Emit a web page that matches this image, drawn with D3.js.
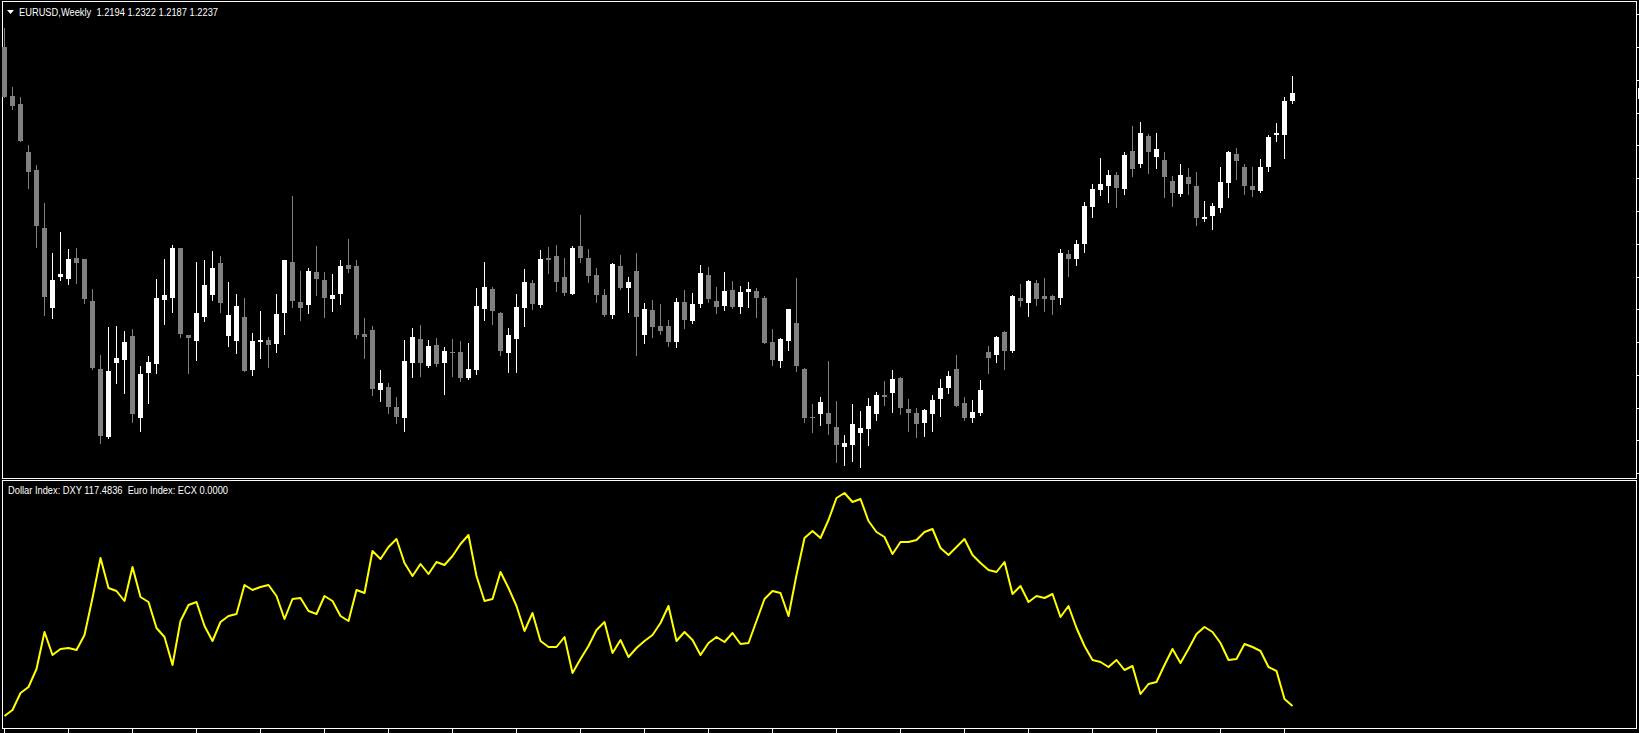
<!DOCTYPE html>
<html>
<head>
<meta charset="utf-8">
<script src="https://cdn.jsdelivr.net/npm/d3@7"></script>
<style>
    body { margin: 0; background: #000; overflow: hidden; }
    svg { display: block; }
    text { font-family: "Liberation Sans", Arial, sans-serif; font-size: 10px; fill: #fff; white-space: pre; }
</style>
</head>
<body>
<div id="chart"></div>
<script>
// Weekly EURUSD candles (oldest first)
const opens = [
    1.2467,1.2220,1.2180,1.1940,1.1850,1.1560,1.1162,1.1317,1.1307,1.1410,
    1.1405,1.1195,1.0855,1.0517,1.0887,1.0902,1.1020,1.0612,1.0837,1.0882,
    1.1202,1.1212,1.1460,1.1027,1.0997,1.1117,1.1225,1.1385,1.1022,1.0997,
    1.1115,1.0850,1.0992,1.1000,1.0982,1.1135,1.1390,1.1190,1.1175,1.1340,
    1.1300,1.1207,1.1230,1.1375,1.1370,1.1030,1.1050,1.0752,1.0765,1.0667,
    1.0612,1.0887,1.1005,1.0872,1.0975,1.0887,1.0940,1.0940,1.0812,1.0852,
    1.1157,1.1255,1.1135,1.0937,1.1007,1.1162,1.1285,1.1175,1.1410,1.1420,
    1.1315,1.1232,1.1470,1.1410,1.1325,1.1225,1.1127,1.1370,1.1262,1.1345,
    1.1027,1.1150,1.1070,1.1070,1.0992,1.1190,1.1097,1.1182,1.1325,1.1195,
    1.1172,1.1250,1.1167,1.1242,1.1245,1.1210,1.0990,1.0897,1.0997,1.1085,
    1.0855,1.0617,1.0632,1.0635,1.0567,1.0467,1.0477,1.0537,1.0557,1.0632,
    1.0727,1.0737,1.0812,1.0657,1.0637,1.0587,1.0632,1.0707,1.0762,1.0857,
    1.0687,1.0612,1.0637,1.0942,1.0927,1.1042,1.0947,1.1212,1.1187,1.1287,
    1.1222,1.1222,1.1212,1.1432,1.1407,1.1482,1.1667,1.1752,1.1772,1.1827,
    1.1757,1.1947,1.1882,1.2022,1.1917,1.1902,1.1797,1.1732,1.1817,1.1772,
    1.1607,1.1622,1.1662,1.1787,1.1929,1.1867,1.1772,1.1747,1.1867,1.2027,
    1.2025,1.2194
];
const highs = [
    1.2559,1.2267,1.2214,1.1975,1.1875,1.1687,1.1437,1.1542,1.1455,1.1460,
    1.1407,1.1254,1.0925,1.1067,1.1072,1.1045,1.1054,1.0870,1.0920,1.1305,
    1.1405,1.1475,1.1462,1.1028,1.1390,1.1400,1.1445,1.1420,1.1290,1.1230,
    1.1210,1.1035,1.1145,1.1015,1.1230,1.1402,1.1720,1.1345,1.1360,1.1470,
    1.1342,1.1330,1.1400,1.1505,1.1400,1.1110,1.1070,1.0850,1.0787,1.0715,
    1.1000,1.1060,1.1075,1.1000,1.1010,1.0965,1.1005,1.0995,1.0985,1.1260,
    1.1390,1.1267,1.1140,1.1060,1.1230,1.1355,1.1300,1.1450,1.1465,1.1475,
    1.1410,1.1470,1.1625,1.1455,1.1360,1.1255,1.1385,1.1425,1.1315,1.1435,
    1.1185,1.1200,1.1180,1.1100,1.1210,1.1250,1.1235,1.1375,1.1365,1.1265,
    1.1340,1.1295,1.1270,1.1290,1.1260,1.1220,1.1055,1.1010,1.1157,1.1312,
    1.0860,1.0682,1.0715,1.0895,1.0695,1.0527,1.0682,1.0647,1.0712,1.0742,
    1.0797,1.0852,1.0817,1.0707,1.0662,1.0657,1.0727,1.0807,1.0847,1.0927,
    1.0717,1.0702,1.0802,1.0972,1.1022,1.1044,1.1227,1.1282,1.1302,1.1299,
    1.1312,1.1227,1.1457,1.1452,1.1502,1.1692,1.1782,1.1912,1.1852,1.1842,
    1.1942,1.2072,1.2092,1.2032,1.2037,1.1942,1.1822,1.1882,1.1862,1.1842,
    1.1697,1.1687,1.1867,1.1947,1.1962,1.1882,1.1867,1.1907,1.2027,1.2087,
    1.2217,1.2322
];
const lows = [
    1.2214,1.2157,1.1995,1.1759,1.1467,1.1125,1.1112,1.1300,1.1282,1.1287,
    1.1187,1.0857,1.0487,1.0509,1.0787,1.0734,1.0592,1.0547,1.0684,1.0837,
    1.1082,1.1142,1.1017,1.0837,1.0900,1.1097,1.1202,1.1142,1.0972,1.0934,
    1.0845,1.0827,1.0912,1.0867,1.0942,1.1032,1.1167,1.1102,1.1135,1.1227,
    1.1117,1.1147,1.1182,1.1342,1.1012,1.0912,1.0727,1.0697,1.0637,1.0587,
    1.0547,1.0817,1.0822,1.0867,1.0870,1.0732,1.0822,1.0797,1.0807,1.0832,
    1.1102,1.1082,1.0927,1.0842,1.0842,1.1072,1.1157,1.1167,1.1337,1.1247,
    1.1227,1.1230,1.1392,1.1292,1.1192,1.1122,1.1112,1.1257,1.1142,1.0927,
    1.0987,1.1017,1.1032,1.0972,1.0967,1.1062,1.1087,1.1167,1.1192,1.1137,
    1.1152,1.1162,1.1137,1.1167,1.1117,1.0985,1.0877,1.0867,1.0952,1.0847,
    1.0592,1.0542,1.0577,1.0532,1.0392,1.0377,1.0397,1.0367,1.0477,1.0602,
    1.0677,1.0642,1.0632,1.0547,1.0517,1.0522,1.0547,1.0622,1.0737,1.0670,
    1.0602,1.0592,1.0627,1.0837,1.0892,1.0857,1.0940,1.1172,1.1122,1.1177,
    1.1147,1.1132,1.1182,1.1322,1.1377,1.1442,1.1617,1.1727,1.1692,1.1667,
    1.1732,1.1822,1.1867,1.1837,1.1862,1.1717,1.1672,1.1722,1.1732,1.1577,
    1.1597,1.1557,1.1642,1.1717,1.1807,1.1732,1.1722,1.1742,1.1847,1.1997,
    1.1912,1.2187
];
const closes = [
    1.2217,1.2170,1.1997,1.1842,1.1572,1.1217,1.1300,1.1330,1.1405,1.1387,
    1.1207,1.0860,1.0522,1.0845,1.0910,1.0990,1.0629,1.0830,1.0890,1.1210,
    1.1225,1.1460,1.1030,1.1009,1.1135,1.1275,1.1360,1.1187,1.1125,1.1170,
    1.0847,1.0995,1.1000,1.0975,1.1130,1.1400,1.1195,1.1160,1.1345,1.1307,
    1.1212,1.1225,1.1370,1.1355,1.1027,1.1017,1.0757,1.0785,1.0667,1.0617,
    1.0897,1.1015,1.0887,1.0970,1.0882,1.0945,1.0934,1.0812,1.0855,1.1170,
    1.1265,1.1147,1.0947,1.1025,1.1165,1.1290,1.1182,1.1405,1.1402,1.1292,
    1.1237,1.1460,1.1412,1.1322,1.1227,1.1127,1.1382,1.1262,1.1290,1.1117,
    1.1155,1.1067,1.1047,1.0992,1.1190,1.1102,1.1180,1.1335,1.1207,1.1167,
    1.1245,1.1167,1.1240,1.1255,1.1212,1.0987,1.0902,1.1007,1.1155,1.0872,
    1.0612,1.0612,1.0690,1.0582,1.0477,1.0487,1.0582,1.0562,1.0672,1.0727,
    1.0717,1.0807,1.0662,1.0637,1.0582,1.0652,1.0702,1.0762,1.0822,1.0672,
    1.0612,1.0642,1.0752,1.0912,1.1017,1.0947,1.1222,1.1197,1.1297,1.1207,
    1.1207,1.1202,1.1437,1.1407,1.1482,1.1672,1.1757,1.1782,1.1827,1.1762,
    1.1927,1.1857,1.2037,1.1942,1.1957,1.1817,1.1737,1.1827,1.1782,1.1612,
    1.1615,1.1672,1.1792,1.1939,1.1897,1.1772,1.1752,1.1867,1.2017,1.2034,
    1.2197,1.2237
];

// Dollar index line in the lower window, one value per candle
const dxy = [
    96.2,96.8,98.5,99.1,100.9,104.6,102.3,102.9,103.0,102.8,
    104.3,108.0,112.0,109.0,108.7,107.7,111.1,108.1,107.6,105.0,
    104.1,101.3,105.7,107.3,107.6,105.2,103.7,105.6,106.2,106.4,
    109.3,108.8,109.1,109.3,108.2,105.9,107.9,108.0,106.7,106.4,
    108.2,107.7,106.2,105.7,108.8,108.5,112.7,111.9,113.1,113.9,
    111.5,110.2,111.4,110.4,111.6,111.3,112.2,113.4,114.3,110.2,
    107.7,107.9,110.6,109.0,107.2,104.7,106.5,103.7,103.1,103.1,
    104.1,100.5,101.9,103.2,104.8,105.6,102.5,103.8,102.1,103.0,
    103.7,104.3,105.5,107.2,103.7,104.6,103.8,102.3,103.5,104.1,
    103.6,104.5,103.4,103.5,105.7,107.9,108.7,108.5,106.2,110.3,
    114.0,114.7,114.0,115.8,118.0,118.5,117.6,117.9,115.7,114.6,
    114.1,112.4,113.6,113.6,113.8,114.6,114.9,113.0,112.3,113.1,
    113.9,112.3,111.5,110.8,110.6,111.6,108.4,109.2,107.6,108.2,
    108.0,108.4,106.1,107.2,105.0,103.2,101.8,101.6,101.1,101.8,
    100.8,101.2,98.4,99.4,99.6,101.3,102.9,101.5,102.9,104.4,
    105.1,104.6,103.5,101.8,101.9,103.4,103.1,102.7,101.1,100.7,
    97.9,97.2
];

// Price levels marked on the right scale (labels fall outside the window)
const priceTicks = [1.2630,1.2466,1.2302,1.2138,1.1974,1.1810,1.1646,1.1482,1.1318,1.1154,1.0990,1.0826,1.0662,1.0498,1.0334];

const symbol = "EURUSD";
const period = "Weekly";
const indicatorLabel = "Dollar Index: DXY 117.4836  Euro Index: ECX 0.0000";

// Chart geometry
const width = 1639;
const height = 733;
const frameLeft = 2.5;
const frameRight = 1636.5;
const mainTop = 1.5;
const mainBottom = 478.5;
const subTop = 480.5;
const subBottom = 728.5;
const barStep = 8;
const bodyWidth = 5;
const timeTickEvery = 8;

let data = opens.map((o, i) => ({ i: i, o: o, h: highs[i], l: lows[i], c: closes[i], v: dxy[i] }));

let svg = d3.select("#chart")
    .append("svg")
    .attr("width", width)
    .attr("height", height)
    .style("background", "#000");

// Scales: one bar every 8 px, price and index windows stacked
let x = d3.scaleLinear().domain([0, data.length - 1]).range([4.5, 4.5 + barStep * (data.length - 1)]);
let y = d3.scaleLinear().domain([1.03105, 1.26905]).range([478, 2]);
let yIdx = d3.scaleLinear().domain([95, 120]).range([728, 478]);

// Window frames
svg.append("rect")
    .attr("x", frameLeft).attr("y", mainTop)
    .attr("width", frameRight - frameLeft).attr("height", mainBottom - mainTop)
    .attr("fill", "none").attr("stroke", "#fff");
svg.append("rect")
    .attr("x", frameLeft).attr("y", subTop)
    .attr("width", frameRight - frameLeft).attr("height", subBottom - subTop)
    .attr("fill", "none").attr("stroke", "#fff");

// Candles
let candleColor = (d) => d.c >= d.o ? "#ffffff" : "#808080";
let candles = svg.append("g").attr("shape-rendering", "crispEdges");

candles.selectAll("line.wick")
    .data(data)
    .enter()
    .append("line")
    .attr("class", "wick")
    .attr("x1", (d) => x(d.i))
    .attr("x2", (d) => x(d.i))
    .attr("y1", (d) => Math.round(y(d.h)))
    .attr("y2", (d) => Math.round(y(d.l)) + 1)
    .attr("stroke", candleColor)
    .attr("stroke-width", 1);

candles.selectAll("rect.body")
    .data(data)
    .enter()
    .append("rect")
    .attr("class", "body")
    .attr("x", (d) => x(d.i) - bodyWidth / 2)
    .attr("y", (d) => Math.round(y(Math.max(d.o, d.c))))
    .attr("width", bodyWidth)
    .attr("height", (d) => Math.max(1, Math.round(y(Math.min(d.o, d.c))) - Math.round(y(Math.max(d.o, d.c)))))
    .attr("fill", candleColor);

// Dollar index line
let line = d3.line()
    .x((d) => x(d.i))
    .y((d) => yIdx(d.v));

svg.append("path")
    .datum(data)
    .attr("d", line)
    .attr("fill", "none")
    .attr("stroke", "#ffff00")
    .attr("stroke-width", 2)
    .attr("stroke-linejoin", "round");

// Right price scale ticks
let ticks = svg.append("g").attr("shape-rendering", "crispEdges");
ticks.selectAll("line.ptick")
    .data(priceTicks)
    .enter()
    .append("line")
    .attr("class", "ptick")
    .attr("x1", frameRight)
    .attr("x2", width)
    .attr("y1", (d) => Math.round(y(d)) + 0.5)
    .attr("y2", (d) => Math.round(y(d)) + 0.5)
    .attr("stroke", "#fff");

// Current price marker at the last close
let last = data[data.length - 1];
ticks.append("rect")
    .attr("x", frameRight + 1)
    .attr("y", Math.round(y(last.c)) - 5)
    .attr("width", 4)
    .attr("height", 11)
    .attr("fill", "#fff");

// Time scale ticks every 8 bars under the lower window
let timeIdx = data.filter((d) => d.i % timeTickEvery === 0).map((d) => d.i);
ticks.selectAll("line.ttick")
    .data(timeIdx)
    .enter()
    .append("line")
    .attr("class", "ttick")
    .attr("x1", (d) => x(d))
    .attr("x2", (d) => x(d))
    .attr("y1", subBottom)
    .attr("y2", height)
    .attr("stroke", "#fff");

// Window titles
svg.append("path")
    .attr("d", "M7,10L14,10L10.5,14Z")
    .attr("fill", "#fff");

svg.append("text")
    .attr("x", 19)
    .attr("y", 15.5)
    .attr("textLength", 199)
    .attr("lengthAdjust", "spacingAndGlyphs")
    .text(`${symbol},${period}  ${last.o.toFixed(4)} ${last.h.toFixed(4)} ${last.l.toFixed(4)} ${last.c.toFixed(4)}`);

svg.append("text")
    .attr("x", 8)
    .attr("y", 493.5)
    .attr("textLength", 220)
    .attr("lengthAdjust", "spacingAndGlyphs")
    .text(indicatorLabel);
</script>
</body>
</html>
